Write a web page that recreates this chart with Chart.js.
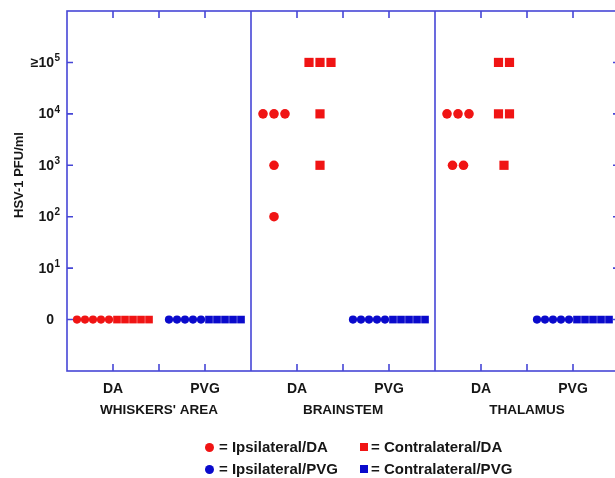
<!DOCTYPE html>
<html>
<head>
<meta charset="utf-8">
<script src="https://cdn.jsdelivr.net/npm/chart.js@4/dist/chart.umd.min.js"></script>
<style>
  html, body { margin:0; padding:0; background:#fff; width:615px; height:478px; overflow:hidden; }
  #wrap { position:absolute; left:0; top:0; width:630px; height:478px; }
  .lg { position:absolute; font:bold 15px "Liberation Sans", Arial, sans-serif; color:#161616; white-space:nowrap; line-height:18px; }
  .mk { position:absolute; }
</style>
</head>
<body>
<div id="wrap"><canvas id="c" width="630" height="478"></canvas></div>
<div id="legend"></div>
<script>
// ---- data (log10 titre level; 0 = no virus detected) ----
const regions = ["WHISKERS' AREA", "BRAINSTEM", "THALAMUS"];
const sites = ["DA", "PVG"];
const yTickLabels = ["0", "10^1", "10^2", "10^3", "10^4", "≥10^5"];
const yTitle = "HSV-1 PFU/ml";
// one array per region, five animals each
const ipsilateralDA    = [[0,0,0,0,0], [4,4,4,3,2], [4,4,4,3,3]];
const contralateralDA  = [[0,0,0,0,0], [5,5,5,4,3], [5,5,4,4,3]];
const ipsilateralPVG   = [[0,0,0,0,0], [0,0,0,0,0], [0,0,0,0,0]];
const contralateralPVG = [[0,0,0,0,0], [0,0,0,0,0], [0,0,0,0,0]];
const seriesNames = ["Ipsilateral/DA", "Contralateral/DA", "Ipsilateral/PVG", "Contralateral/PVG"];

// ---- styling ----
const RED = '#f01414', BLUE = '#0a0acc', AXIS = '#4646d6', TXT = '#161616';
const FONT = '"Liberation Sans", Arial, sans-serif';

// ---- dot-plot layout (x in category units: each region spans 4 units) ----
const ROW_STEP = 0.174, CL_STEP = 0.239, SIDE = 0.5;
function layout(ipsi, contra, site) {
  const a = [], b = [];
  ipsi.forEach((vals, r) => {
    const c = r * 4 + 1 + site * 2;
    const cvals = contra[r];
    const zeros = [];
    vals.forEach(v => { if (v === 0) zeros.push(a); });
    cvals.forEach(v => { if (v === 0) zeros.push(b); });
    zeros.forEach((out, k) => out.push({ x: c + (k - (zeros.length - 1) / 2) * ROW_STEP, y: 0 }));
    [[vals, a, -SIDE], [cvals, b, SIDE]].forEach(([vs, out, off]) => {
      const groups = {};
      vs.filter(v => v > 0).forEach(v => (groups[v] = groups[v] || []).push(v));
      Object.values(groups).forEach(g => g.forEach((v, j) =>
        out.push({ x: c + off + (j - (g.length - 1) / 2) * CL_STEP, y: v })));
    });
  });
  return [a, b];
}
const [ipDA, coDA] = layout(ipsilateralDA, contralateralDA, 0);
const [ipPVG, coPVG] = layout(ipsilateralPVG, contralateralPVG, 1);

const circR = ctx => (ctx.raw && ctx.raw.y === 0) ? 4.1 : 4.8;
const rectR = ctx => (ctx.raw && ctx.raw.y === 0) ? 5.4 : 6.5;
function ds(label, data, color, style) {
  return { label, data, backgroundColor: color, borderColor: color, borderWidth: 0,
    pointStyle: style, pointRadius: style === 'circle' ? circR : rectR, pointHoverRadius: style === 'circle' ? circR : rectR };
}

const frame = {
  id: 'frame',
  beforeDatasetsDraw(chart) {
    const { ctx, chartArea: a, scales: { x, y } } = chart;
    ctx.save();
    ctx.strokeStyle = AXIS; ctx.lineWidth = 1.6;
    ctx.strokeRect(a.left, a.top, a.right - a.left, a.bottom - a.top);
    ctx.beginPath();
    [4, 8].forEach(v => { const px = x.getPixelForValue(v); ctx.moveTo(px, a.top); ctx.lineTo(px, a.bottom); });
    [1,2,3,5,6,7,9,10,11].forEach(v => {
      const px = x.getPixelForValue(v);
      ctx.moveTo(px, a.top); ctx.lineTo(px, a.top + 7);
      ctx.moveTo(px, a.bottom); ctx.lineTo(px, a.bottom - 7);
    });
    yTickLabels.forEach((_, i) => {
      const py = y.getPixelForValue(i);
      ctx.moveTo(a.left, py); ctx.lineTo(a.left + 6, py);
      ctx.moveTo(a.right, py); ctx.lineTo(a.right - 6, py);
    });
    ctx.stroke();
    ctx.restore();
  },
  afterDraw(chart) {
    const { ctx, chartArea: a, scales: { x, y } } = chart;
    ctx.save();
    ctx.fillStyle = TXT;
    // y tick labels with superscript exponents
    yTickLabels.forEach((lab, i) => {
      const py = y.getPixelForValue(i);
      const [base, exp] = lab.split('^');
      ctx.font = 'bold 14px ' + FONT; ctx.textAlign = 'right'; ctx.textBaseline = 'middle';
      ctx.fillText(base, 54, py + 0.5);
      if (exp) {
        ctx.font = 'bold 10px ' + FONT; ctx.textAlign = 'left';
        ctx.fillText(exp, 54.5, py - 4);
      }
    });
    // region labels
    ctx.font = 'bold 13.5px ' + FONT; ctx.textAlign = 'center'; ctx.textBaseline = 'middle';
    regions.forEach((r, i) => ctx.fillText(r, x.getPixelForValue(i * 4 + 2), 410));
    // y title
    ctx.translate(19, 175); ctx.rotate(-Math.PI / 2);
    ctx.font = 'bold 13px ' + FONT;
    ctx.fillText(yTitle, 0, 0);
    ctx.restore();
  }
};

new Chart(document.getElementById('c'), {
  type: 'scatter',
  data: { datasets: [
    ds(seriesNames[0], ipDA, RED, 'circle'),
    ds(seriesNames[1], coDA, RED, 'rect'),
    ds(seriesNames[2], ipPVG, BLUE, 'circle'),
    ds(seriesNames[3], coPVG, BLUE, 'rect')
  ]},
  options: {
    responsive: false, animation: false, devicePixelRatio: 1,
    layout: { padding: { top: 11, right: 11, left: 0, bottom: 0 } },
    plugins: { legend: { display: false }, tooltip: { enabled: false } },
    scales: {
      x: {
        type: 'linear', min: 0, max: 12, position: 'bottom',
        afterFit: s => { s.height = 107; },
        afterBuildTicks: s => { s.ticks = [1,3,5,7,9,11].map(v => ({ value: v })); },
        ticks: { autoSkip: false, maxRotation: 0, padding: 10, color: TXT,
          font: { family: FONT, size: 14, weight: 'bold' },
          callback: v => sites[((v - 1) / 2) % 2] },
        grid: { display: false, drawTicks: false }, border: { display: false }
      },
      y: {
        type: 'linear', min: -1, max: 6,
        afterFit: s => { s.width = 67; },
        ticks: { display: false },
        grid: { display: false, drawTicks: false }, border: { display: false }
      }
    }
  },
  plugins: [frame]
});

// ---- legend (HTML text) ----
const legendItems = [
  { name: seriesNames[0], color: RED, shape: 'circle', x: 205, y: 447 },
  { name: seriesNames[1], color: RED, shape: 'square', x: 360, y: 447 },
  { name: seriesNames[2], color: BLUE, shape: 'circle', x: 205, y: 469 },
  { name: seriesNames[3], color: BLUE, shape: 'square', x: 360, y: 469 }
];
const lg = document.getElementById('legend');
legendItems.forEach(it => {
  const m = document.createElement('div');
  m.className = 'mk';
  const s = it.shape === 'circle' ? 9 : 8;
  m.style.cssText = `left:${it.x}px;top:${it.y - s / 2}px;width:${s}px;height:${s}px;background:${it.color};border-radius:${it.shape === 'circle' ? '50%' : '0'}`;
  lg.appendChild(m);
  const t = document.createElement('div');
  t.className = 'lg';
  t.style.left = (it.x + (it.shape === 'circle' ? 14 : 11)) + 'px';
  t.style.top = (it.y - 9) + 'px';
  t.textContent = '= ' + it.name;
  lg.appendChild(t);
});
</script>
</body>
</html>
